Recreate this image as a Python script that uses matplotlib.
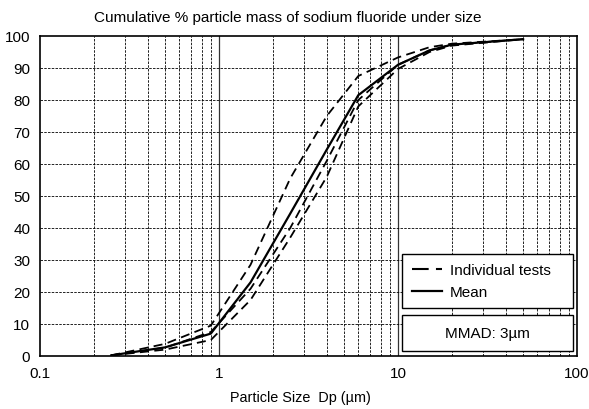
import numpy as np
import matplotlib
matplotlib.use("Agg")
import matplotlib.pyplot as plt
from matplotlib.patches import Rectangle
from matplotlib.ticker import FixedLocator, NullFormatter

plt.rcParams['font.family'] = ['Liberation Sans', 'DejaVu Sans']

# cut sizes (um) and cumulative % under size
sizes = [0.25, 0.5, 0.9, 1.5, 2.5, 4.0, 6.0, 10.0, 15.0, 20.0, 50.0]
test_a = [0.2, 3.8, 9.5, 28.5, 55.5, 75.0, 87.5, 93.3, 96.5, 97.6, 99.0]
test_b = [0.2, 2.6, 7.5, 21.0, 40.0, 61.0, 80.0, 91.0, 95.5, 97.3, 99.0]
test_c = [0.2, 2.0, 5.0, 17.5, 37.0, 56.0, 78.0, 89.7, 95.0, 97.0, 99.0]
mean = [0.2, 2.7, 7.0, 23.0, 44.5, 64.5, 81.5, 91.0, 95.5, 97.3, 99.0]

y_ticks = [0, 10, 20, 30, 40, 50, 60, 70, 80, 90, 100]
x_ticks = [0.1, 1, 10, 100]
x_ticklabels = ["0.1", "1", "10", "100"]

fig = plt.figure(figsize=(5.89, 4.10), dpi=100)
ax = fig.add_axes([40/589, 1-357/410, 537/589, 320/410])
ax.set_xscale('log')
ax.set_xlim(0.1, 100)
ax.set_ylim(0, 100)

# grid
minor = [m * d for d in (0.1, 1, 10) for m in range(2, 10)]
for v in minor:
    ax.axvline(v, color='black', lw=0.6, ls=(0, (3, 1.5)), zorder=1)
for v in (1, 10):
    ax.axvline(v, color='#333333', lw=0.9, zorder=1)
for v in y_ticks[1:-1]:
    ax.axhline(v, color='black', lw=0.6, ls=(0, (3, 1.5)), zorder=1)

dash = (0, (5, 3))
for i, t in enumerate([test_a, test_b, test_c]):
    ax.plot(sizes, t, color='black', lw=1.3, ls=dash, zorder=3,
            label='Individual tests' if i == 0 else None)
ax.plot(sizes, mean, color='black', lw=1.6, zorder=4, label='Mean')

ax.xaxis.set_major_locator(FixedLocator(x_ticks))
ax.xaxis.set_minor_locator(FixedLocator([]))
ax.xaxis.set_minor_formatter(NullFormatter())
ax.set_xticklabels(x_ticklabels)
ax.set_yticks(y_ticks)
ax.tick_params(axis='both', length=0, labelsize=11, pad=7)
for s in ax.spines.values():
    s.set_linewidth(1.2)

fig.text(288/589, 1-18/410, 'Cumulative % particle mass of sodium fluoride under size',
         ha='center', va='center', fontsize=11)
fig.text(300/589, 1-398/410, 'Particle Size  Dp (\u00b5m)', ha='center', va='center', fontsize=10.4)

leg = ax.legend(loc='upper left', bbox_to_anchor=(0.675, 0.318, 0.317, 0.0), mode='expand',
                borderaxespad=0, fancybox=False, framealpha=1, edgecolor='black', fontsize=11,
                handlelength=2.0, handletextpad=0.5, borderpad=0.6, labelspacing=0.5)
leg.get_frame().set_linewidth(1.0)
leg.set_zorder(6)
leg.get_lines()[0].set_dashes([8, 3.5])
leg.get_lines()[0].set_linewidth(1.5)

ax.add_patch(Rectangle((0.675, 0.0166), 0.317, 0.112, transform=ax.transAxes,
                       facecolor='white', edgecolor='black', lw=1.0, zorder=6))
ax.text(0.8335, 0.0726, 'MMAD: 3\u00b5m', transform=ax.transAxes, ha='center', va='center',
        fontsize=11, zorder=7)

fig.savefig('out.png', dpi=100)
